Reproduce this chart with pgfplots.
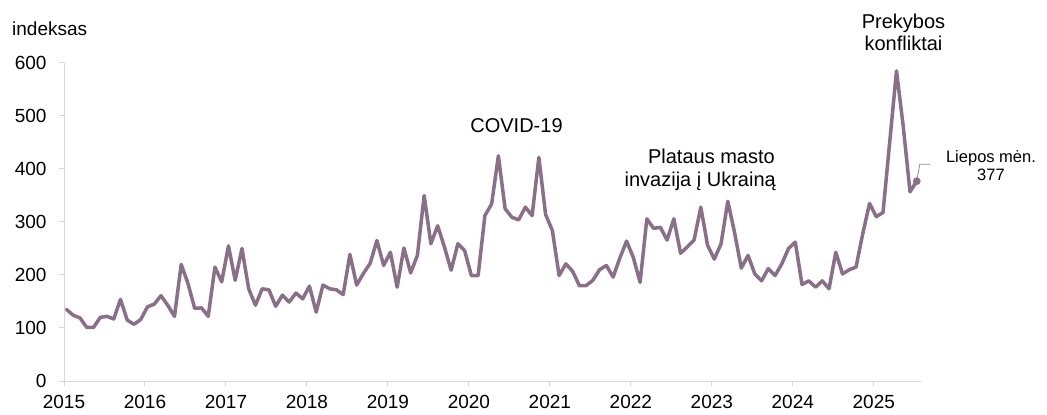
\documentclass[border=0pt]{standalone}
\usepackage{fontspec}
\setmainfont{Liberation Sans}
\usepackage{pgfplots}
\pgfplotsset{compat=1.18}
\definecolor{linec}{RGB}{137,111,136}
\definecolor{axisgray}{RGB}{217,213,217}
\begin{document}
\begin{tikzpicture}
\useasboundingbox (-64bp,-34bp) rectangle (983bp,381bp);
\begin{axis}[
  at={(0,0)}, anchor=south west,
  scale only axis, width=857bp, height=318bp,
  xmin=-0.37, xmax=126.63, ymin=0, ymax=600,
  axis x line=bottom, axis y line=left,
  axis line style={axisgray, line width=1bp, -},
  xtick={-0.37,11.63,23.63,35.63,47.63,59.63,71.63,83.63,95.63,107.63,119.63},
  xticklabels={2015,2016,2017,2018,2019,2020,2021,2022,2023,2024,2025},
  ytick={0,100,200,300,400,500,600},
  tick align=outside,
  major tick length=5bp,
  tick style={axisgray, line width=1bp},
  ticklabel style={font=\fontsize{19bp}{22bp}\selectfont},
  yticklabel style={xshift=-9bp},
  xticklabel style={yshift=-6bp},
  /pgf/number format/assume math mode=true,
  clip=false,
]
\addplot[linec, line width=3.5bp, line join=round, line cap=round, mark=none] table {
x y
0 135
1 124
2 119
3 101
4 101
5 120
6 122
7 117
8 154
9 115
10 107
11 116
12 140
13 145
14 161
15 143
16 122
17 220
18 184
19 137
20 138
21 122
22 215
23 187
24 255
25 190
26 250
27 174
28 143
29 174
30 172
31 141
32 162
33 149
34 166
35 155
36 179
37 130
38 181
39 174
40 172
41 163
42 239
43 181
44 203
45 222
46 265
47 218
48 243
49 177
50 251
51 204
52 237
53 350
54 259
55 293
56 253
57 209
58 259
59 246
60 199
61 199
62 312
63 334
64 425
65 325
66 309
67 304
68 328
69 312
70 422
71 314
72 284
73 199
74 221
75 207
76 180
77 180
78 190
79 210
80 218
81 196
82 232
83 264
84 233
85 186
86 306
87 288
88 290
89 266
90 306
91 241
92 253
93 266
94 328
95 256
96 230
97 259
98 339
99 280
100 213
101 237
102 202
103 189
104 212
105 199
106 221
107 250
108 262
109 182
110 189
111 177
112 189
113 174
114 243
115 202
116 210
117 215
118 278
119 335
120 310
121 318
122 452
123 585
124 480
125 357
126 377
};
\addplot[linec, only marks, mark=*, mark size=3.6bp] coordinates {(126,377)};
\draw[black!45, line width=0.8bp] (axis cs:126,377) -- ++(3bp,17bp) -- ++(8bp,0);
\end{axis}
\node[anchor=base west, inner sep=0, font=\fontsize{19bp}{22bp}\selectfont] at (-52bp,345bp) {indeksas};
\node[anchor=base, inner sep=0, font=\fontsize{20bp}{24bp}\selectfont] at (452.5bp,248bp) {COVID-19};
\node[anchor=base east, inner sep=0, font=\fontsize{20bp}{24bp}\selectfont] at (711bp,217bp) {Plataus masto};
\node[anchor=base east, inner sep=0, font=\fontsize{20bp}{24bp}\selectfont] at (712bp,194bp) {invazija į Ukrainą};
\node[anchor=base, inner sep=0, font=\fontsize{20bp}{24bp}\selectfont] at (839.5bp,352bp) {Prekybos};
\node[anchor=base, inner sep=0, font=\fontsize{20bp}{24bp}\selectfont] at (839.5bp,330bp) {konfliktai};
\node[anchor=base, inner sep=0, font=\fontsize{16.5bp}{20bp}\selectfont] at (927bp,218bp) {Liepos mėn.};
\node[anchor=base, inner sep=0, font=\fontsize{16.5bp}{20bp}\selectfont] at (927bp,200bp) {377};
\end{tikzpicture}
\end{document}
